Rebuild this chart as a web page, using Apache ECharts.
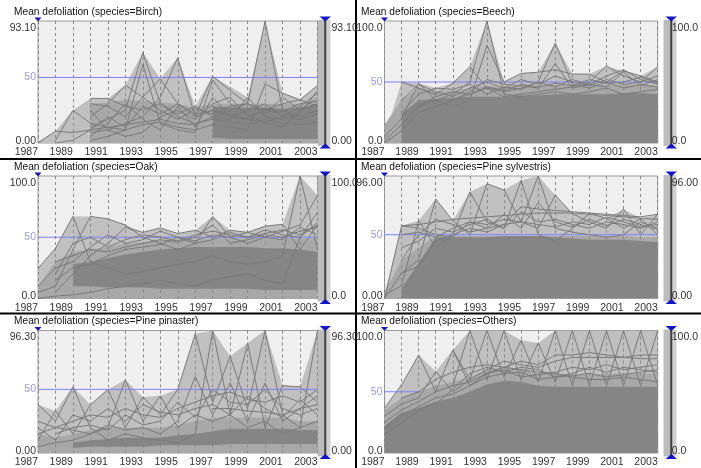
<!DOCTYPE html>
<html>
<head>
<meta charset="utf-8">
<script src="https://cdn.jsdelivr.net/npm/echarts@6/dist/echarts.min.js"></script>
<style>
  html, body { margin: 0; padding: 0; background: #fff; }
  #main { width: 701px; height: 468px; }
</style>
</head>
<body>
<div id="main"></div>
<script type="text/javascript">
  // years on the x axis
  var years = ['1987', '1988', '1989', '1990', '1991', '1992', '1993', '1994', '1995', '1996', '1997', '1998', '1999', '2000', '2001', '2002', '2003'];
  var species = ['Birch', 'Beech', 'Oak', 'Pine sylvestris', 'Pine pinaster', 'Others'];
  var maxVals = [93.1, 100, 100, 96, 96.3, 100];
  var maxLabels = ['93.10', '100.0', '100.0', '96.00', '96.30', '100.0'];
  var minLabels = ['0.00', '0.0', '0.0', '0.00', '0.00', '0.0'];
  var refLevel = 50;

  // upper envelope (max over all trees)
  var birchEnv = [1, 9, 25, 34, 34, 44, 69, 49, 65, 28, 51, 43, 35, 93.1, 38, 33, 44];
  var beechEnv = [5, 50, 49, 45, 49, 62.5, 100, 50, 57, 58, 82, 56.5, 56.5, 63, 59, 55, 62.5];
  var oakEnv = [24.5, 41, 67, 67, 65, 60, 54, 57.6, 53, 55.7, 67, 55.7, 54, 59, 60.6, 100, 84];
  var psylEnv = [2.6, 57, 61, 78, 61, 83.5, 90, 85, 92.6, 96, 81, 66.5, 66.5, 63, 70, 62.6, 66];
  var ppinEnv = [38, 33, 52, 38, 50, 57.6, 44, 45, 50, 93.7, 96.3, 76, 86.4, 96.3, 53, 52, 96.3];
  var othersEnv = [36.7, 55.7, 80, 66.6, 84, 100, 100, 100, 92, 89.7, 100, 100, 100, 100, 100, 100, 100];

  // loose bundle of lines
  var birchSparse = [null, null, null, 30, 31, 33, 32, 31, 30, 27, 30, 30, 30, 30, 30, 30, 33];
  var beechSparse = [15, 35, 45, 42, 43, 45, 47, 46, 47, 47, 48, 48, 48, 48, 48, 48, 47];
  var oakSparse = [10, 30, 38, 40, 42, 45, 46, 48, 48, 48, 49, 49, 49, 49, 49, 49, 49];
  var psylSparse = [5, 30, 40, 49, 49, 49, 49, 49, 49, 49, 49, 49, 49, 49, 49, 48, 48];
  var ppinSparse = [15, 12, 15, 18, 20, 20, 20, 20, 22, 25, 28, 28, 28, 28, 28, 25, 25];
  var othersSparse = [35, 45, 50, 55, 58, 62, 68, 70, 68, 65, 65, 64, 64, 65, 65, 65, 65];

  // dense core of lines (bottom, top)
  var birchDenseLo = [null, null, null, null, null, null, null, null, null, null, 4, 3, 3, 3, 3, 3, 3];
  var birchDenseHi = [null, null, null, null, null, null, null, null, null, null, 28, 27, 27, 27, 26, 27, 30];
  var beechDenseLo = [null, 0, 0, 0, 0, 0, 0, 0, 0, 0, 0, 0, 0, 0, 0, 0, 0];
  var beechDenseHi = [null, 24, 35, 36, 37, 38, 38, 38, 39, 39, 40, 40, 40, 40, 41, 41, 40];
  var oakDenseLo = [null, null, 10, 10, 9, 9, 9, 8, 8, 8, 8, 8, 8, 7, 7, 7, 7];
  var oakDenseHi = [null, null, 28, 30, 33, 36, 38, 40, 41, 42, 42, 42, 42, 41, 41, 40, 38];
  var psylDenseLo = [null, 0, 0, 0, 0, 0, 0, 0, 0, 0, 0, 0, 0, 0, 0, 0, 0];
  var psylDenseHi = [null, 8, 28, 48, 48, 48, 48, 49, 49, 49, 48, 47, 46, 46, 46, 45, 44];
  var ppinDenseLo = [null, null, 4, 5, 5, 5, 5, 6, 6, 6, 6, 7, 7, 7, 7, 7, 7];
  var ppinDenseHi = [null, null, 8, 10, 11, 12, 12, 12, 14, 15, 17, 19, 19, 19, 19, 18, 18];
  var othersDenseLo = [0, 0, 0, 0, 0, 0, 0, 0, 0, 0, 0, 0, 0, 0, 0, 0, 0];
  var othersDenseHi = [22, 33, 37, 42, 45, 50, 56, 59, 58, 55, 54, 54, 54, 54, 54, 54, 54];

  // single trees
  var birchLines = [
    [null, null, null, 12, 18, 25, 69, 30, 20, 15, 18, 16, 14, 18, 15, 14, 16],
    [null, null, null, 20, 30, 44, 35, 49, 30, 22, 25, 20, 18, 16, 20, 18, 22],
    [null, null, null, 8, 10, 15, 20, 35, 65, 20, 51, 40, 30, 25, 22, 20, 25],
    [0, 9, 8, 10, 12, 14, 16, 18, 15, 14, 20, 25, 30, 93.1, 25, 20, 25],
    [null, 2, 25, 15, 12, 10, 14, 16, 12, 10, 14, 12, 10, 45, 38, 33, 44],
    [null, null, null, 34, 34, 28, 25, 30, 22, 28, 20, 18, 35, 20, 18, 22, 40],
    [null, null, null, 2, 5, 10, 60, 15, 10, 8, 48, 30, 22, 15, 12, 25, 35],
    [null, null, null, 25, 10, 5, 8, 20, 25, 18, 30, 35, 20, 25, 30, 33, 28],
    [null, null, null, 30, 28, 20, 35, 25, 18, 26, 22, 28, 30, 22, 35, 25, 30],
    [null, null, null, 5, 15, 30, 18, 10, 28, 12, 35, 20, 25, 30, 20, 28, 38],
    [null, 0, 2, 10, 20, 12, 28, 22, 30, 20, 25, 22, 18, 26, 24, 30, 32]
  ];
  var beechLines = [
    [null, null, 30, 35, 40, 50, 100, 40, 38, 40, 42, 40, 42, 45, 40, 42, 44],
    [null, null, null, 30, 35, 40, 45, 42, 45, 50, 82, 48, 45, 50, 45, 48, 46],
    [null, 50, 45, 40, 49, 62.5, 45, 38, 40, 42, 44, 46, 50, 63, 55, 50, 62.5],
    [5, 20, 49, 35, 30, 35, 80, 50, 57, 58, 60, 56.5, 56.5, 50, 59, 55, 50],
    [0, 10, 25, 30, 35, 42, 52, 48, 47, 45, 65, 45, 48, 55, 60, 52, 48],
    [null, 35, 48, 42, 38, 45, 50, 45, 52, 48, 55, 50, 47, 52, 48, 50, 55],
    [null, 25, 40, 45, 44, 48, 40, 46, 44, 50, 46, 52, 48, 46, 58, 47, 52],
    [2, 15, 30, 38, 42, 40, 46, 43, 48, 46, 49, 47, 52, 49, 50, 54, 49]
  ];
  var oakLines = [
    [24.5, 41, 67, 30, 25, 20, 22, 25, 28, 30, 35, 30, 28, 30, 35, 100, 40],
    [5, 10, 40, 67, 65, 60, 50, 45, 40, 45, 67, 50, 45, 50, 55, 60, 84],
    [null, 5, 20, 35, 45, 58, 54, 57.6, 53, 55.7, 50, 55.7, 54, 59, 60.6, 40, 60],
    [0, 2, 3, 5, 8, 10, 12, 15, 12, 10, 15, 18, 20, 15, 12, 50, 70],
    [null, 30, 35, 40, 38, 42, 45, 48, 46, 50, 60, 45, 48, 52, 50, 55, 58],
    [null, 20, 45, 50, 42, 48, 52, 50, 47, 52, 55, 52, 50, 53, 56, 52, 60],
    [10, 25, 30, 42, 52, 45, 48, 55, 50, 47, 52, 50, 54, 50, 48, 58, 52],
    [null, 15, 25, 28, 35, 40, 42, 44, 50, 45, 48, 54, 50, 56, 52, 50, 62]
  ];
  var psylLines = [
    [0, 57, 55, 50, 48, 60, 55, 58, 60, 96, 55, 52, 50, 48, 50, 60, 55],
    [0, 20, 30, 78, 61, 50, 90, 85, 60, 55, 81, 66.5, 60, 55, 70, 50, 66],
    [2.6, 10, 61, 40, 50, 83.5, 60, 55, 92.6, 50, 45, 55, 66.5, 63, 55, 62.6, 50],
    [null, 57, 58, 60, 62, 63, 64, 65, 66, 67, 67, 67, 66, 65, 64, 63, 62],
    [null, 20, 25, 45, 50, 55, 52, 58, 72, 70, 69, 68, 67, 66, 65, 64, 66],
    [null, 40, 45, 55, 52, 58, 62, 55, 68, 60, 62, 58, 55, 60, 58, 55, 60],
    [null, 30, 50, 62, 58, 52, 55, 66, 55, 75, 60, 56, 62, 57, 62, 58, 54],
    [null, 50, 52, 48, 55, 60, 58, 62, 60, 58, 56, 60, 58, 64, 60, 56, 58]
  ];
  var ppinLines = [
    [38, 25, 52, 20, 10, 15, 12, 10, 8, 15, 96.3, 30, 20, 25, 15, 20, 25],
    [10, 33, 15, 38, 50, 20, 44, 30, 50, 93.7, 40, 76, 35, 96.3, 30, 20, 96.3],
    [5, 8, 10, 15, 20, 57.6, 25, 45, 20, 30, 25, 30, 86.4, 20, 53, 52, 40],
    [25, 20, 18, 15, 22, 18, 20, 15, 25, 60, 30, 55, 25, 55, 25, 35, 45],
    [null, null, null, null, null, null, null, null, null, null, 35, 35, 33, 32, 30, 35, 38],
    [15, 20, 25, 30, 28, 35, 30, 28, 35, 40, 45, 48, 42, 40, 45, 40, 50],
    [20, 10, 30, 25, 35, 25, 38, 32, 30, 35, 38, 30, 45, 35, 28, 42, 30],
    [null, 15, 20, 22, 18, 30, 22, 25, 40, 28, 50, 40, 38, 50, 35, 30, 35]
  ];
  var othersLines = [
    [null, null, null, null, 55, 100, 60, 100, 60, 89.7, 58, 100, 55, 100, 55, 100, 55],
    [null, null, null, null, 84, 60, 100, 62, 92, 58, 100, 55, 100, 55, 100, 55, 100],
    [36.7, 55.7, 80, 50, 84, 55, 65, 70, 68, 66, 65, 62, 60, 60, 62, 60, 58],
    [30, 40, 45, 66.6, 50, 60, 68, 75, 72, 70, 75, 78, 78, 78, 78, 77, 77],
    [20, 30, 38, 45, 48, 55, 62, 65, 66, 60, 62, 63, 65, 62, 64, 66, 68],
    [25, 35, 42, 50, 55, 58, 65, 68, 62, 64, 66, 70, 68, 72, 68, 70, 72],
    [15, 25, 35, 40, 52, 65, 70, 66, 70, 68, 62, 65, 70, 66, 70, 68, 66],
    [null, 45, 50, 60, 66, 70, 72, 70, 75, 72, 80, 80, 82, 80, 78, 80, 80]
  ];

  var envs = [birchEnv, beechEnv, oakEnv, psylEnv, ppinEnv, othersEnv];
  var sparses = [birchSparse, beechSparse, oakSparse, psylSparse, ppinSparse, othersSparse];
  var denseLos = [birchDenseLo, beechDenseLo, oakDenseLo, psylDenseLo, ppinDenseLo, othersDenseLo];
  var denseHis = [birchDenseHi, beechDenseHi, oakDenseHi, psylDenseHi, ppinDenseHi, othersDenseHi];
  var lineSets = [birchLines, beechLines, oakLines, psylLines, ppinLines, othersLines];

  // layout of the 3x2 panels
  var cols = [{left: 38, width: 279.5}, {left: 384.5, width: 279}];
  var rows = [{top: 21, height: 122}, {top: 176, height: 122.5}, {top: 330.5, height: 123}];
  var font = "'Liberation Sans', Arial, sans-serif";

  var grids = [], xAxes = [], yAxes = [], series = [], titles = [], graphics = [];

  species.forEach(function (name, i) {
    var c = cols[i % 2], r = rows[Math.floor(i / 2)];
    grids.push({
      left: c.left, top: r.top, width: c.width, height: r.height,
      show: true, backgroundColor: '#efefef', borderColor: '#9a9a9a', borderWidth: 1
    });
    titles.push({
      text: 'Mean defoliation (species=' + name + ')',
      left: i % 2 ? 361 : 14, top: r.top - 14, padding: 0,
      textStyle: {fontSize: 10.2, fontWeight: 'normal', color: '#111', fontFamily: font}
    });
    xAxes.push({
      type: 'category', gridIndex: i, data: years, boundaryGap: false, z: 3,
      axisLine: {show: false}, axisTick: {show: false},
      splitLine: {show: true, interval: 0, lineStyle: {color: '#8a8a8a', width: 1, type: [3, 3]}},
      axisLabel: {interval: 1, margin: 4, align: 'right', fontSize: 10.5, color: '#333', fontFamily: font}
    });
    var mx = maxVals[i];
    yAxes.push({
      type: 'value', gridIndex: i, min: 0, max: mx, interval: 50,
      axisLine: {show: false}, axisTick: {show: false}, splitLine: {show: false},
      axisLabel: {
        margin: 2, fontSize: 10.5, fontFamily: font, color: '#333',
        formatter: function (v) {
          if (v === 0) return '{b|' + minLabels[i] + '}';
          if (v === refLevel) return '{m|' + v + '}';
          return '{t|' + maxLabels[i] + '}';
        },
        rich: {
          t: {padding: [14, 0, 0, 0], fontSize: 10.5, color: '#333', fontFamily: font},
          b: {padding: [0, 0, 4, 0], fontSize: 10.5, color: '#333', fontFamily: font},
          m: {fontSize: 10.5, color: '#9a9ae6', fontFamily: font}
        }
      }
    });
    yAxes.push({
      type: 'value', gridIndex: i, min: 0, max: mx, interval: 50, position: 'right', offset: 13,
      axisLine: {show: false}, axisTick: {show: false}, splitLine: {show: false},
      axisLabel: {
        margin: 1, fontSize: 10.5, fontFamily: font, color: '#333',
        formatter: function (v) {
          if (v === 0) return '{b|' + minLabels[i] + '}';
          if (v === refLevel) return '';
          return '{t|' + maxLabels[i] + '}';
        },
        rich: {
          t: {padding: [14, 0, 0, 0], fontSize: 10.5, color: '#333', fontFamily: font},
          b: {padding: [0, 0, 4, 0], fontSize: 10.5, color: '#333', fontFamily: font}
        }
      }
    });

    var base = {type: 'line', xAxisIndex: i, yAxisIndex: 2 * i, showSymbol: false, symbol: 'none', silent: true, animation: false};
    series.push(Object.assign({}, base, {
      name: name + ' max', data: envs[i], z: 2,
      lineStyle: {width: 0}, areaStyle: {color: '#c0c0c0', opacity: 1}
    }));
    // reference level at 50, under the bundle of lines
    series.push(Object.assign({}, base, {
      name: name + ' ref', z: 2.2,
      data: years.map(function () { return refLevel; }),
      lineStyle: {color: '#7f7fff', width: 1, type: 'solid'}
    }));
    // loose bundle sits under the dashed year lines
    series.push(Object.assign({}, base, {
      name: name + ' sparse', data: sparses[i], z: 2.5,
      lineStyle: {width: 0}, areaStyle: {color: '#a8a8a8', opacity: 1}
    }));
    var lo = denseLos[i], hi = denseHis[i];
    series.push(Object.assign({}, base, {
      name: name + ' lo', data: lo, z: 4, stack: 'd' + i,
      lineStyle: {width: 0}
    }));
    series.push(Object.assign({}, base, {
      name: name + ' dense', z: 4, stack: 'd' + i,
      data: hi.map(function (h, k) { return h == null ? null : h - lo[k]; }),
      lineStyle: {width: 0}, areaStyle: {color: '#858585', opacity: 1}
    }));
    lineSets[i].forEach(function (ln, j) {
      series.push(Object.assign({}, base, {
        name: name + ' tree ' + j, data: ln, z: 5,
        lineStyle: {color: '#7a7a7a', width: 1}
      }));
    });

    // range slider on the right and the little markers
    var gx = c.left + c.width, gy = r.top, gh = r.height;
    graphics.push(
      {type: 'rect', silent: true, shape: {x: gx, y: gy - 1, width: 7.5, height: gh + 4}, style: {fill: '#bcbcbc'}},
      {type: 'rect', silent: true, shape: {x: gx + 8.5, y: gy - 1, width: 4.5, height: gh + 4}, style: {fill: '#d0d0d0'}},
      {type: 'line', silent: true, shape: {x1: gx + 7.75, y1: gy - 2, x2: gx + 7.75, y2: gy + gh + 4}, style: {stroke: '#404040', lineWidth: 2}},
      {type: 'polygon', silent: true, shape: {points: [[gx + 2, gy - 4.5], [gx + 13.5, gy - 4.5], [gx + 7.75, gy + 0.5]]}, style: {fill: '#1414c8'}},
      {type: 'polygon', silent: true, shape: {points: [[gx + 2, gy + gh + 5.5], [gx + 13.5, gy + gh + 5.5], [gx + 7.75, gy + gh + 0.5]]}, style: {fill: '#1414c8'}},
      {type: 'polygon', silent: true, shape: {points: [[c.left - 3.5, gy - 3.5], [c.left + 3.5, gy - 3.5], [c.left, gy + 0.5]]}, style: {fill: '#1414c8'}}
    );
  });

  // black separators between panels
  graphics.push(
    {type: 'line', silent: true, shape: {x1: 356, y1: 0, x2: 356, y2: 468}, style: {stroke: '#000', lineWidth: 2}},
    {type: 'line', silent: true, shape: {x1: 0, y1: 159, x2: 701, y2: 159}, style: {stroke: '#000', lineWidth: 2}},
    {type: 'line', silent: true, shape: {x1: 0, y1: 313.5, x2: 701, y2: 313.5}, style: {stroke: '#000', lineWidth: 2}}
  );

  var option = {
    animation: false,
    backgroundColor: '#fff',
    title: titles,
    grid: grids,
    xAxis: xAxes,
    yAxis: yAxes,
    series: series,
    graphic: graphics
  };
  var myChart = echarts.init(document.getElementById('main'));
  myChart.setOption(option);
</script>
</body>
</html>
